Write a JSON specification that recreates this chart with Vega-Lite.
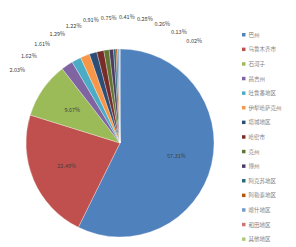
{
  "$schema": "https://vega.github.io/schema/vega-lite/v6.json",
  "width": 240,
  "height": 206,
  "autosize": {"type": "none"},
  "padding": {"left": 0, "top": 40, "right": 56, "bottom": 1},
  "background": "white",
  "config": {"view": {"stroke": null}, "font": "Noto Sans CJK SC"},
  "data": {
    "values": [
      {"order": 1, "region": "巴州", "pct": 57.31, "label": "57.31%", "inner": "57.31%"},
      {"order": 2, "region": "乌鲁木齐市", "pct": 22.49, "label": "22.49%", "inner": "22.49%"},
      {"order": 3, "region": "石河子", "pct": 9.67, "label": "9.67%", "inner": "9.67%"},
      {"order": 4, "region": "昌吉州", "pct": 2.03, "label": "2.03%", "inner": ""},
      {"order": 5, "region": "吐鲁番地区", "pct": 1.62, "label": "1.62%", "inner": ""},
      {"order": 6, "region": "伊犁哈萨克州", "pct": 1.61, "label": "1.61%", "inner": ""},
      {"order": 7, "region": "塔城地区", "pct": 1.29, "label": "1.29%", "inner": ""},
      {"order": 8, "region": "哈密市", "pct": 1.22, "label": "1.22%", "inner": ""},
      {"order": 9, "region": "克州", "pct": 0.91, "label": "0.91%", "inner": ""},
      {"order": 10, "region": "博州", "pct": 0.75, "label": "0.75%", "inner": ""},
      {"order": 11, "region": "阿克苏地区", "pct": 0.41, "label": "0.41%", "inner": ""},
      {"order": 12, "region": "阿勒泰地区", "pct": 0.28, "label": "0.28%", "inner": ""},
      {"order": 13, "region": "喀什地区", "pct": 0.26, "label": "0.26%", "inner": ""},
      {"order": 14, "region": "和田地区", "pct": 0.13, "label": "0.13%", "inner": ""},
      {"order": 15, "region": "其他地区", "pct": 0.02, "label": "0.02%", "inner": ""}
    ]
  },
  "layer": [
    {
      "mark": {"type": "arc", "outerRadius": 94, "stroke": "white", "strokeWidth": 0.3},
      "encoding": {
        "theta": {"field": "pct", "type": "quantitative", "stack": true},
        "order": {"field": "order", "type": "quantitative", "sort": "ascending"},
        "color": {
          "field": "region",
          "type": "nominal",
          "sort": {"field": "order"},
          "scale": {"range": ["#4F81BD", "#C0504D", "#9BBB59", "#8064A2", "#4BACC6", "#F79646", "#2C4D75", "#772C2A", "#5F7530", "#4D3B62", "#276A7C", "#B65708", "#729ACA", "#CD7371", "#AFC97A"]},
          "legend": {
            "title": null,
            "orient": "none",
            "legendX": 241,
            "legendY": -8,
            "symbolType": "square",
            "symbolSize": 12,
            "symbolStrokeWidth": 0,
            "labelFontSize": 5.5,
            "labelColor": "#7f7f7f",
            "labelFont": "Noto Sans CJK SC",
            "rowPadding": 7.6,
            "labelOffset": 2,
            "labelLimit": 60
          }
        }
      }
    },
    {
      "mark": {"type": "text", "radius": 58, "fontSize": 5.5, "color": "#404040"},
      "encoding": {
        "theta": {"field": "pct", "type": "quantitative", "stack": true},
        "order": {"field": "order", "type": "quantitative", "sort": "ascending"},
        "text": {"field": "inner", "type": "nominal"}
      }
    },
    {
      "transform": [{"filter": "datum.order > 3"}],
      "mark": {"type": "text", "radius": 126, "fontSize": 5.5, "color": "#404040"},
      "encoding": {
        "theta": {"field": "order", "type": "quantitative", "stack": null, "scale": {"domain": [4, 15], "range": [-0.953, 0.63]}},
        "text": {"field": "label", "type": "nominal"}
      }
    }
  ],
  "resolve": {"scale": {"theta": "independent"}}
}
